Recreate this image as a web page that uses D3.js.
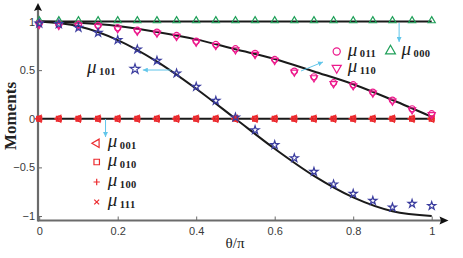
<!DOCTYPE html>
<html lang="en">
<head>
<meta charset="UTF-8">
<title>Moments vs theta/pi</title>
<script src="https://d3js.org/d3.v7.min.js"></script>
<style>
    body { margin: 0; background: #fff; }
    .tick text { font-family: "Liberation Sans", Arial, sans-serif; font-size: 11px; fill: #3a3a3a; }
    .serif { font-family: "Liberation Serif", "Times New Roman", serif; fill: #222; }
</style>
</head>
<body>
<svg id="chart" width="463" height="258"></svg>
<script>
    // sample positions (theta / pi)
    const theta = [0, 0.05, 0.1, 0.15, 0.2, 0.25, 0.3, 0.35, 0.4, 0.45, 0.5,
        0.55, 0.6, 0.65, 0.7, 0.75, 0.8, 0.85, 0.9, 0.95, 1];

    // measured moments (markers)
    const mu000 = [1, 1, 1, 1, 1, 1, 1, 1, 1, 1, 1, 1, 1, 1, 1, 1, 1, 1, 1, 1, 1];
    const mu011 = [0.974, 0.964, 0.964, 0.954, 0.93, 0.905, 0.885, 0.851, 0.792, 0.758, 0.714,
        0.666, 0.604, 0.484, 0.426, 0.365, 0.344, 0.268, 0.186, 0.097, 0.046];
    const mu110 = mu011.slice();
    const mu101 = [0.98, 0.974, 0.936, 0.885, 0.81, 0.714, 0.597, 0.467, 0.33, 0.186, 0.015,
        -0.116, -0.27, -0.404, -0.544, -0.674, -0.771, -0.843, -0.911, -0.874, -0.895];
    const mu001 = [0, 0, 0, 0, 0, 0, 0, 0, 0, 0, 0, 0, 0, 0, 0, 0, 0, 0, 0, 0, 0];
    const mu010 = mu001.slice(), mu100 = mu001.slice(), mu111 = mu001.slice();

    // theory curves (black lines)
    const lineTheta = [0, 0.1, 0.2, 0.3, 0.4, 0.5, 0.6, 0.7, 0.8, 0.9, 1];
    const line000 = [1, 1, 1, 1, 1, 1, 1, 1, 1, 1, 1];
    const line011 = [1, 0.986, 0.953, 0.892, 0.816, 0.714, 0.615, 0.486, 0.355, 0.193, 0.02];
    const line101 = [1, 0.951, 0.809, 0.588, 0.309, 0, -0.309, -0.588, -0.809, -0.951, -1];
    const lineZero = [0, 0, 0, 0, 0, 0, 0, 0, 0, 0, 0];

    const xTicks = [0, 0.2, 0.4, 0.6, 0.8, 1];
    const yTicks = [-1, -0.5, 0, 0.5, 1];

    const svg = d3.select("#chart");
    const x = d3.scaleLinear().domain([0, 1]).range([39.2, 431.7]);
    const y = d3.scaleLinear().domain([-1, 1]).range([216, 21.5]);
    const axisColor = "#6b6b6b";
    const cyan = "#62c6ea", green = "#20a05a", pink = "#ec1a8c", blue = "#3a3c9e", red = "#ec2a2e";

    const defs = svg.append("defs");
    defs.append("marker").attr("id", "arr").attr("viewBox", "0 0 10 10")
        .attr("refX", 10).attr("refY", 5).attr("markerWidth", 5).attr("markerHeight", 5)
        .attr("orient", "auto")
        .append("path").attr("d", "M0,0L10,5L0,10z").attr("fill", cyan);

    // axes
    const xAxis = svg.append("g").attr("transform", "translate(0,220.5)")
        .call(d3.axisBottom(x).tickValues(xTicks).tickFormat(d3.format("")).tickSizeInner(-4).tickSizeOuter(0).tickPadding(6.5));
    const yAxis = svg.append("g").attr("transform", "translate(38,0)")
        .call(d3.axisLeft(y).tickValues(yTicks).tickFormat(d3.format("")).tickSizeInner(-4).tickSizeOuter(0).tickPadding(3));
    [xAxis, yAxis].forEach(g => {
        g.select(".domain").remove();
        g.selectAll(".tick line").attr("stroke", axisColor);
    });
    svg.append("line").attr("x1", 38).attr("x2", 441).attr("y1", 220.5).attr("y2", 220.5)
        .attr("stroke", axisColor).attr("stroke-width", 2);
    svg.append("line").attr("x1", 38).attr("x2", 38).attr("y1", 221.5).attr("y2", 9)
        .attr("stroke", axisColor).attr("stroke-width", 2.2);
    svg.append("path").attr("d", "M448.5,220.5L439.5,216.5L441,220.5L439.5,224.5Z").attr("fill", "#111");
    svg.append("path").attr("d", "M38,3L34,11L38,9.5L42,11Z").attr("fill", "#111");

    // axis labels
    svg.append("text").attr("class", "serif").attr("transform", "translate(16,116) rotate(-90)")
        .attr("text-anchor", "middle").attr("font-size", 17).attr("font-weight", "bold").text("Moments");
    svg.append("text").attr("class", "serif").attr("x", 235).attr("y", 248)
        .attr("text-anchor", "middle").attr("font-size", 15).text("θ/π");

    // theory lines
    const line = d3.line().curve(d3.curveMonotoneX);
    [line000, lineZero, line011, line101].forEach(vals => {
        svg.append("path")
            .attr("d", line(lineTheta.map((t, i) => [x(t), y(vals[i])])))
            .attr("fill", "none").attr("stroke", "#1a1a1a").attr("stroke-width", 2);
    });

    // marker shapes
    const sym = (type, size) => d3.symbol().type(type).size(size)();
    const shapes = {
        triUp: s => sym(d3.symbolTriangle, s),
        circle: s => sym(d3.symbolCircle, s),
        star: s => sym(d3.symbolStar, s),
        square: s => sym(d3.symbolSquare, s),
        plus: s => { const r = Math.sqrt(s) / 2; return `M${-r},0H${r}M0,${-r}V${r}`; },
        cross: s => { const r = Math.sqrt(s) / 2.6; return `M${-r},${-r}L${r},${r}M${-r},${r}L${r},${-r}`; }
    };
    const series = [
        { vals: mu001, shape: "triUp", rot: -90, color: red, size: 20, dy: 0 },
        { vals: mu010, shape: "square", rot: 0, color: red, size: 24, dy: 0 },
        { vals: mu100, shape: "plus", rot: 0, color: red, size: 40, dy: 0 },
        { vals: mu111, shape: "cross", rot: 0, color: red, size: 40, dy: 0 },
        { vals: mu000, shape: "triUp", rot: 0, color: green, size: 22, dy: -0.8 },
        { vals: mu011, shape: "circle", rot: 0, color: pink, size: 30, dy: -0.5 },
        { vals: mu110, shape: "triUp", rot: 180, color: pink, size: 22, dy: 0.5 },
        { vals: mu101, shape: "star", rot: 0, color: blue, size: 20, dy: 0 }
    ];
    series.forEach(s => {
        svg.append("g").selectAll("path").data(s.vals).join("path")
            .attr("d", shapes[s.shape](s.size))
            .attr("transform", (v, i) => `translate(${x(theta[i])},${y(v) + s.dy}) rotate(${s.rot})`)
            .attr("fill", "none").attr("stroke", s.color).attr("stroke-width", 1.2);
    });

    // annotation arrows, in data units
    const arrows = [
        [[0.917, 0.985], [0.917, 0.79]],
        [[0.667, 0.491], [0.723, 0.584]],
        [[0.336, 0.501], [0.264, 0.501]],
        [[0.169, -0.003], [0.169, -0.188]]
    ];
    arrows.forEach(([a, b]) => {
        svg.append("line").attr("x1", x(a[0])).attr("y1", y(a[1])).attr("x2", x(b[0])).attr("y2", y(b[1]))
            .attr("stroke", cyan).attr("stroke-width", 1).attr("marker-end", "url(#arr)");
    });

    // legend entries
    const legend = [
        { px: 390.5, py: 51, shape: "triUp", rot: 0, color: green, size: 42, sub: "000" },
        { px: 336.7, py: 51.5, shape: "circle", rot: 0, color: pink, size: 40, sub: "011" },
        { px: 336.7, py: 68, shape: "triUp", rot: 180, color: pink, size: 36, sub: "110" },
        { px: 135, py: 69, shape: "star", rot: 0, color: blue, size: 30, sub: "101", textLeft: 87 },
        { px: 96.7, py: 143.3, shape: "triUp", rot: -90, color: red, size: 30, sub: "001" },
        { px: 96.7, py: 162, shape: "square", rot: 0, color: red, size: 30, sub: "010" },
        { px: 96.7, py: 182, shape: "plus", rot: 0, color: red, size: 40, sub: "100" },
        { px: 96.7, py: 202, shape: "cross", rot: 0, color: red, size: 40, sub: "111" }
    ];
    legend.forEach(l => {
        svg.append("path").attr("d", shapes[l.shape](l.size))
            .attr("transform", `translate(${l.px},${l.py}) rotate(${l.rot})`)
            .attr("fill", "none").attr("stroke", l.color).attr("stroke-width", 1.2);
        const tx = l.textLeft !== undefined ? l.textLeft : l.px + 11;
        const t = svg.append("text").attr("class", "serif").attr("x", tx).attr("y", l.py + 4);
        t.append("tspan").attr("font-size", 19).attr("font-style", "italic").text("μ");
        t.append("tspan").attr("font-size", 10.5).attr("font-weight", "bold").attr("dx", 2.5).attr("dy", 1.5)
            .attr("letter-spacing", 0.4).text(l.sub);
    });
</script>
</body>
</html>
